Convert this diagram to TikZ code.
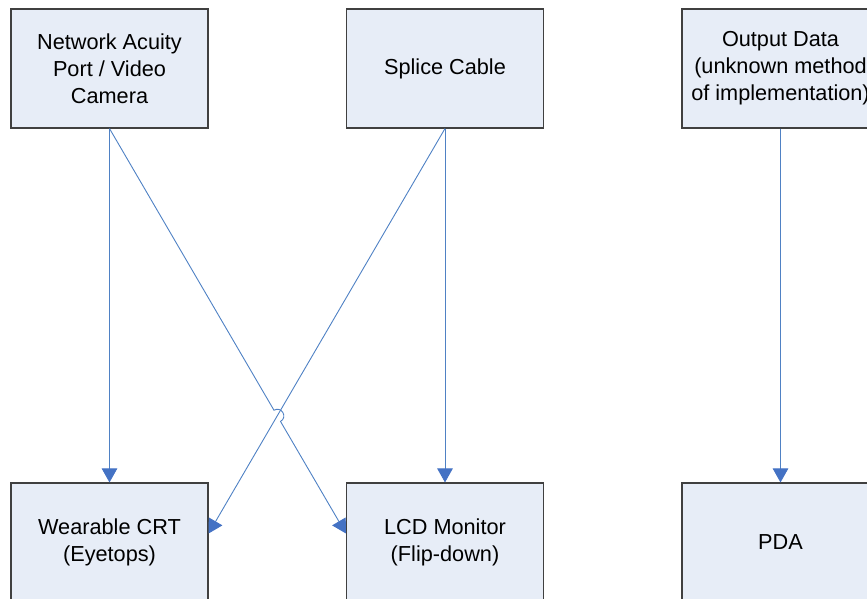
\documentclass[tikz,border=0pt]{standalone}
\usepackage{fontspec}
\setmainfont{Liberation Sans}
\usetikzlibrary{arrows.meta,calc,intersections}
\definecolor{boxfill}{HTML}{E7EDF7}
\definecolor{boxline}{HTML}{404040}
\definecolor{connc}{HTML}{4F81C4}
\definecolor{tipc}{HTML}{4472C4}
\begin{document}
\begin{tikzpicture}[x=1pt,y=-1pt,
  blk/.style={draw=boxline, line width=1.1pt, fill=boxfill, minimum width=197pt, minimum height=119pt, inner sep=0pt, align=center, font=\fontsize{21.7}{27}\selectfont},
  link/.style={draw=connc, line width=0.9pt, -{Triangle[length=14pt,width=15.5pt,color=tipc,fill=tipc]}}]
\useasboundingbox (0,0) rectangle (867,599);
\clip (0,0) rectangle (867,599);
\node[blk] (net) at (109.5,68.5) {Network Acuity\\Port / Video\\Camera};
\node[blk] (splice) at (445,68.5) {Splice Cable};
\node[blk] (out) at (780.5,68.5) {Output Data\\(unknown method\\of implementation)};
\node[blk] (crt) at (109.5,542.5) {Wearable CRT\\(Eyetops)};
\node[blk] (lcd) at (445,542.5) {LCD Monitor\\(Flip-down)};
\node[blk] (pda) at (780.5,542.5) {PDA};
\draw[link] (net.south) -- (crt.north);
\draw[link] (splice.south) -- (lcd.north);
\draw[link] (out.south) -- (pda.north);
\coordinate (lcdin) at ([yshift=9pt]lcd.west);
\coordinate (crtin) at ([yshift=9pt]crt.east);
\draw[link] (splice.south) -- (crtin);
\path[name path=pa] (net.south) -- (lcdin);
\path[name path=pb] (splice.south) -- (crtin);
\path[name intersections={of=pa and pb, by=X}];
\coordinate (P1) at ($(X)!6.5pt!(net.south)$);
\coordinate (P2) at ($(X)!6.5pt!(lcdin)$);
\draw[link] (net.south) -- (P1) .. controls ($(P1)!8.7pt!90:(X)$) and ($(P2)!8.7pt!-90:(X)$) .. (P2) -- (lcdin);
\end{tikzpicture}
\end{document}
